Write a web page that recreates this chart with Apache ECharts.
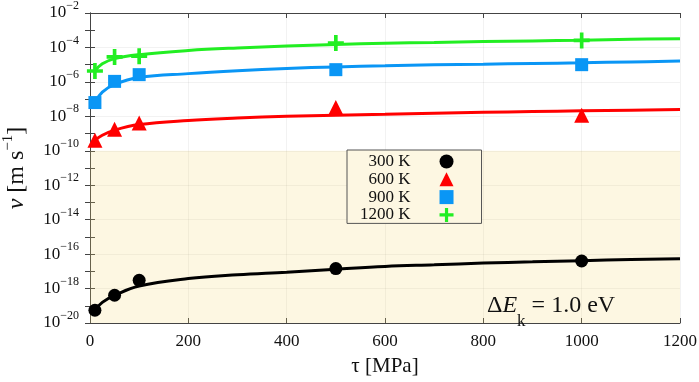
<!DOCTYPE html>
<html>
<head>
<meta charset="utf-8">
<script src="https://cdn.jsdelivr.net/npm/echarts@6/dist/echarts.min.js"></script>
<style>
  html, body { margin: 0; padding: 0; background: #fff; }
  #chart { width: 699px; height: 382px; }
</style>
</head>
<body>
<div id="chart"></div>
<script>
// measured points: tau [MPa] vs log10(v [m/s])
const tau = [10, 50, 100, 500, 1000];
const pts300 = [-19.26, -18.39, -17.52, -16.84, -16.40];
const pts600 = [-9.39, -8.75, -8.39, -7.49, -7.94];
const pts900 = [-7.20, -5.97, -5.58, -5.29, -5.00];
const pts1200 = [-5.37, -4.55, -4.51, -3.74, -3.59];

// fitted curves
const fitTau = [10, 25, 50, 100, 200, 300, 400, 500, 600, 700, 800, 900, 1000, 1100, 1200];
const fit300 = [-19.26, -18.80, -18.40, -17.85, -17.42, -17.20, -17.05, -16.88, -16.72, -16.62, -16.52, -16.45, -16.38, -16.32, -16.27];
const fit600 = [-9.39, -9.10, -8.80, -8.48, -8.24, -8.10, -8.00, -7.93, -7.88, -7.82, -7.77, -7.72, -7.68, -7.64, -7.61];
const fit900 = [-7.20, -6.60, -6.15, -5.75, -5.52, -5.35, -5.22, -5.13, -5.07, -5.01, -4.97, -4.93, -4.89, -4.84, -4.79];
const fit1200 = [-5.37, -4.95, -4.65, -4.42, -4.18, -4.03, -3.92, -3.83, -3.76, -3.71, -3.66, -3.62, -3.58, -3.53, -3.49];

const labels = ['300 K', '600 K', '900 K', '1200 K'];
const colors = ['#000000', '#ff0000', '#0a96f5', '#22ee22'];
const FONT = '"Liberation Serif", "DejaVu Serif", serif';
const plusPath = 'path://M-1.6,-7 L1.6,-7 L1.6,-1.6 L7,-1.6 L7,1.6 L1.6,1.6 L1.6,7 L-1.6,7 L-1.6,1.6 L-7,1.6 L-7,-1.6 L-1.6,-1.6 Z';
const symbols = ['circle', 'triangle', 'rect', plusPath];
const sizes = [13, 15, 13, 16];

const chart = echarts.init(document.getElementById('chart'), null, { renderer: 'canvas' });

const pair = (xs, ys) => xs.map((x, i) => [x, ys[i]]);
const fits = [fit300, fit600, fit900, fit1200];
const pts = [pts300, pts600, pts900, pts1200];

const series = [];
fits.forEach((f, i) => {
  const s = {
    name: 'fit ' + labels[i],
    type: 'line',
    data: pair(fitTau, f),
    smooth: 0.4,
    showSymbol: false,
    lineStyle: { color: colors[i], width: 3 },
    z: 3,
    silent: true
  };
  if (i === 0) {
    s.markArea = {
      silent: true,
      itemStyle: { color: 'rgba(245,215,110,0.2)' },
      data: [[{ yAxis: -20 }, { yAxis: -10 }]]
    };
  }
  series.push(s);
});
pts.forEach((p, i) => {
  series.push({
    name: labels[i],
    type: 'scatter',
    data: pair(tau, p),
    symbol: symbols[i],
    symbolSize: sizes[i],
    itemStyle: { color: colors[i], opacity: 1 },
    z: 4
  });
});

const supLabel = v => '{b|10}{s|' + (v < 0 ? '\u2212' + (-v) : v) + '}';
const tickCommon = { inside: true, length: 5, lineStyle: { color: '#444' } };
const lineCommon = { show: true, lineStyle: { color: '#444', width: 1 } };
const gridLine = { show: true, lineStyle: { color: 'rgba(0,0,0,0.05)', width: 1 } };

chart.setOption({
  animation: false,
  backgroundColor: '#fff',
  grid: { left: 90, right: 19, top: 13, bottom: 59, outerBoundsMode: 'none', containLabel: false },
  legend: {
    data: labels.map((l, i) => ({ name: l, icon: symbols[i] })),
    orient: 'vertical',
    align: 'right',
    left: 347,
    top: 150,
    padding: [3, 28, 0, 13],
    itemWidth: 14,
    itemHeight: 14,
    itemGap: 0.8,
    backgroundColor: '#fdf7e2',
    borderColor: '#555',
    borderWidth: 1,
    borderRadius: 0,
    selectedMode: false,
    textStyle: { fontFamily: FONT, fontSize: 17, color: '#111', padding: [0, 24, 0, 0] }
  },
  xAxis: [{
    type: 'value', min: 0, max: 1200, interval: 200,
    name: '\u03c4 [MPa]', nameLocation: 'middle', nameGap: 33,
    nameTextStyle: { fontFamily: FONT, fontSize: 21, color: '#111' },
    axisLine: lineCommon, axisTick: tickCommon,
    axisLabel: { fontFamily: FONT, fontSize: 17, color: '#111', margin: 10, formatter: v => String(v) },
    splitLine: gridLine
  }, {
    type: 'value', min: 0, max: 1200, interval: 200, position: 'top',
    axisLine: lineCommon, axisTick: tickCommon, axisLabel: { show: false }, splitLine: { show: false }
  }],
  yAxis: [{
    type: 'value', min: -20, max: -2, interval: 2,
    name: '{i|v} [m s{s|\u22121}]', nameLocation: 'middle', nameGap: 53, nameRotate: 90,
    nameTextStyle: {
      fontFamily: FONT, fontSize: 24, color: '#111', lineHeight: 32,
      rich: {
        i: { fontFamily: FONT, fontSize: 24, fontStyle: 'italic', color: '#111', lineHeight: 32 },
        s: { fontFamily: FONT, fontSize: 15, color: '#111', lineHeight: 12, verticalAlign: 'top' }
      }
    },
    axisLine: lineCommon, axisTick: tickCommon,
    minorTick: { show: true, splitNumber: 2, length: 5, lineStyle: { color: '#444' } },
    axisLabel: {
      margin: 11,
      formatter: supLabel,
      rich: {
        b: { fontFamily: FONT, fontSize: 17, color: '#111', lineHeight: 26 },
        s: { fontFamily: FONT, fontSize: 12, color: '#111', lineHeight: 10, verticalAlign: 'top' }
      }
    },
    splitLine: gridLine
  }, {
    type: 'value', min: -20, max: -2, interval: 2, position: 'right',
    axisLine: lineCommon, axisTick: tickCommon,
    minorTick: { show: true, splitNumber: 2, length: 5, lineStyle: { color: '#444' } },
    axisLabel: { show: false }, splitLine: { show: false }
  }],
  graphic: [{
    type: 'text',
    left: 487,
    top: 294,
    z: 10,
    style: {
      text: '{a|\u0394}{e|E}{k|k}{a| = 1.0 eV}',
      rich: {
        a: { fontFamily: FONT, fontSize: 24, fill: '#111', lineHeight: 48 },
        e: { fontFamily: FONT, fontSize: 24, fontStyle: 'italic', fill: '#111', lineHeight: 48 },
        k: { fontFamily: FONT, fontSize: 17, fill: '#111', lineHeight: 10, verticalAlign: 'bottom' }
      }
    }
  }],
  series
});
</script>
</body>
</html>
